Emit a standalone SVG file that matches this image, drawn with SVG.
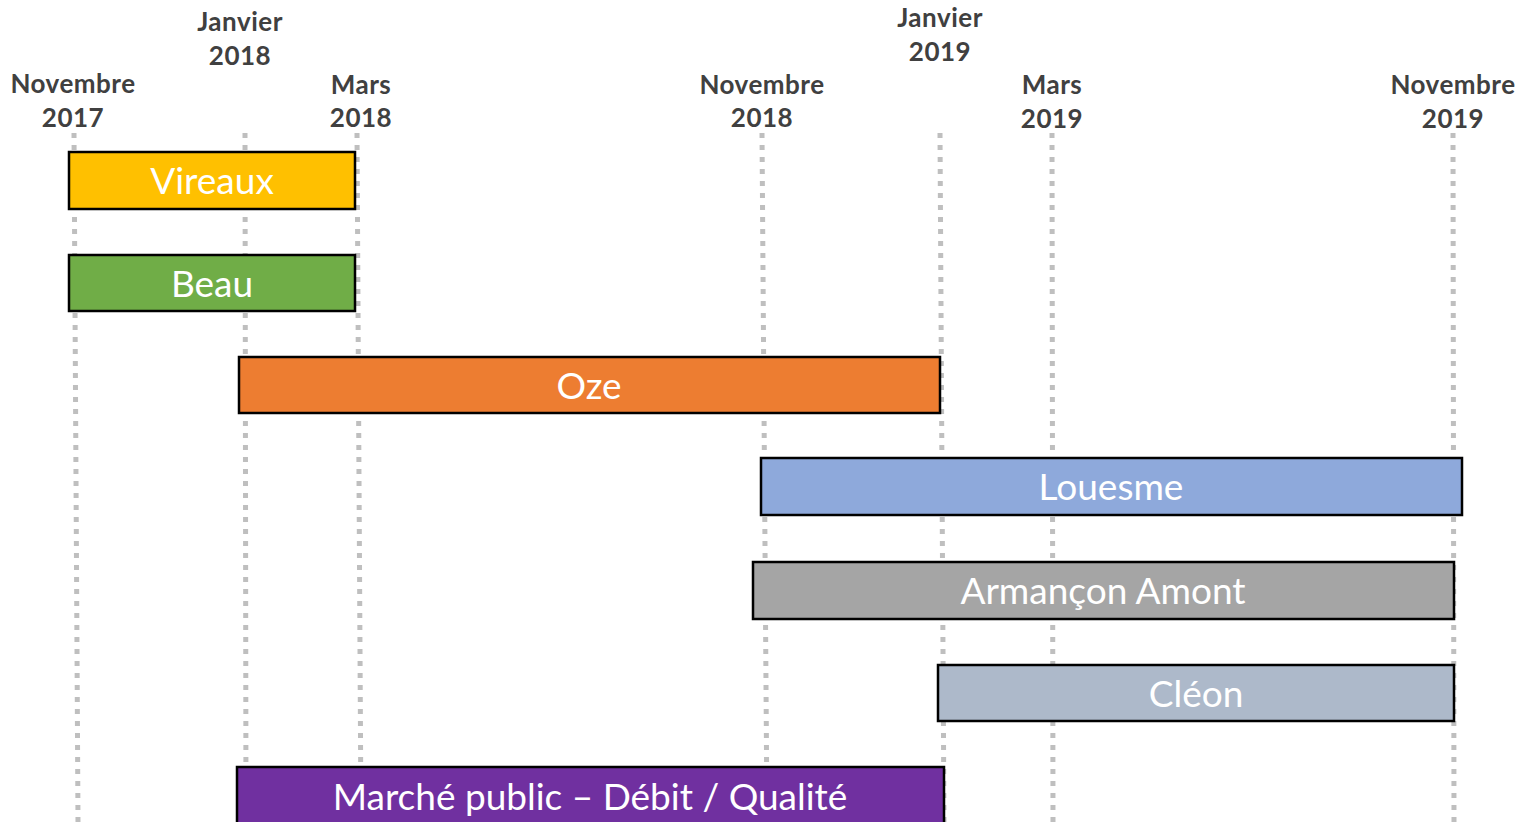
<svg xmlns="http://www.w3.org/2000/svg" width="1521" height="822" viewBox="0 0 1521 822">
<style>
.grid line{stroke:#BFBFBF;stroke-width:5;stroke-dasharray:5 7;}
.bar{stroke:#000;stroke-width:2.5;}
.lbl{font-family:Lato,"Open Sans",sans-serif;font-size:37px;fill:#fff;text-anchor:middle;}
.hd{font-family:Lato,"Open Sans",sans-serif;font-weight:bold;font-size:26px;letter-spacing:0.5px;fill:#404040;text-anchor:middle;}
</style>
<rect width="1521" height="822" fill="#fff"/>
<g id="connectors" class="grid">
<line x1="74" y1="133" x2="78" y2="822"/>
<line x1="245" y1="133" x2="246" y2="822"/>
<line x1="357" y1="133" x2="361" y2="822"/>
<line x1="762" y1="133" x2="767" y2="822"/>
<line x1="940" y1="133" x2="944" y2="822"/>
<line x1="1052" y1="133" x2="1053" y2="822"/>
<line x1="1453" y1="133" x2="1454" y2="822"/>
</g>
<g id="headers">
<text class="hd" x="73" y="93">Novembre</text><text class="hd" x="73" y="127">2017</text>
<text class="hd" x="240" y="31">Janvier</text><text class="hd" x="240" y="65">2018</text>
<text class="hd" x="361" y="94">Mars</text><text class="hd" x="361" y="127">2018</text>
<text class="hd" x="762" y="94">Novembre</text><text class="hd" x="762" y="127">2018</text>
<text class="hd" x="940" y="27">Janvier</text><text class="hd" x="940" y="61">2019</text>
<text class="hd" x="1052" y="94">Mars</text><text class="hd" x="1052" y="128">2019</text>
<text class="hd" x="1453" y="94">Novembre</text><text class="hd" x="1453" y="128">2019</text>
</g>
<g id="vireaux"><rect class="bar" x="69" y="152" width="286" height="57" fill="#FFC000"/><text class="lbl" x="212" y="194">Vireaux</text></g>
<g id="beau"><rect class="bar" x="69" y="255" width="286" height="56" fill="#70AD47"/><text class="lbl" x="212" y="297">Beau</text></g>
<g id="oze"><rect class="bar" x="239" y="357" width="701" height="56" fill="#ED7D31"/><text class="lbl" x="589" y="399">Oze</text></g>
<g id="louesme"><rect class="bar" x="761" y="458" width="701" height="57" fill="#8EA9DB"/><text class="lbl" x="1111" y="500">Louesme</text></g>
<g id="armancon"><rect class="bar" x="753" y="562" width="701" height="57" fill="#A5A5A5"/><text class="lbl" x="1103" y="604">Armançon Amont</text></g>
<g id="cleon"><rect class="bar" x="938" y="665" width="516" height="56" fill="#ADB9CA"/><text class="lbl" x="1196" y="707">Cléon</text></g>
<g id="marche"><rect class="bar" x="237" y="767" width="707" height="70" fill="#7030A0"/><text class="lbl" x="590" y="810">Marché public – Débit / Qualité</text></g>
</svg>
